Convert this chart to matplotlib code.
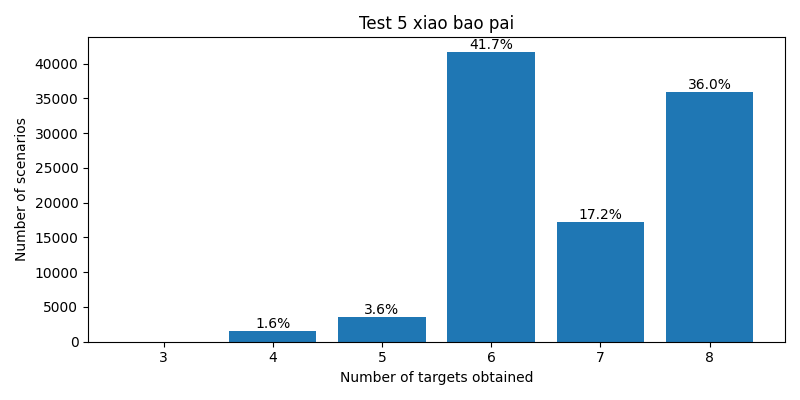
import matplotlib
matplotlib.use("Agg")
import matplotlib.pyplot as plt

targets = [3, 4, 5, 6, 7, 8]
counts = [0, 1560, 3560, 41700, 17190, 35990]

total = sum(counts)
fig, ax = plt.subplots(figsize=(8, 4), dpi=100)
bars = ax.bar(targets, counts)
labels = [f"{c / total * 100:.1f}%" if c > 0 else "" for c in counts]
ax.bar_label(bars, labels=labels)
ax.set_xlabel("Number of targets obtained")
ax.set_ylabel("Number of scenarios")
ax.set_title("Test 5 xiao bao pai")
plt.tight_layout()
plt.savefig("out.png")
